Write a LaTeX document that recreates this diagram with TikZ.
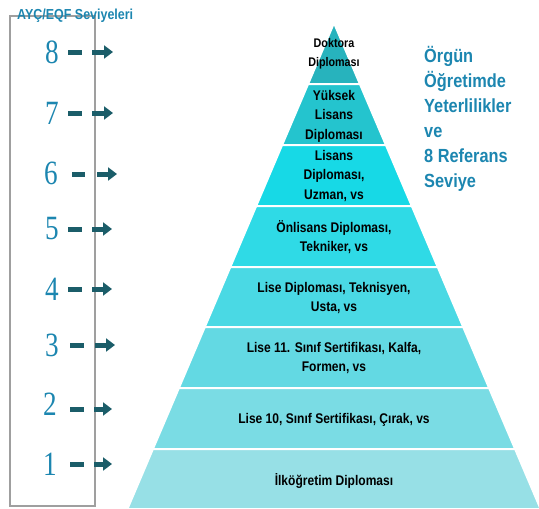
\documentclass[tikz,border=0pt]{standalone}
\usepackage{fontspec}
\setmainfont{Liberation Sans}[FakeStretch=0.86]
\newfontfamily\numfont{Liberation Serif}[FakeStretch=0.8]
\usetikzlibrary{arrows.meta, positioning}

\definecolor{levelblue}{HTML}{1C86B0}
\definecolor{arrowteal}{HTML}{1B5D69}
\definecolor{bandA}{HTML}{27B3BD}
\definecolor{bandB}{HTML}{24C4CE}
\definecolor{bandC}{HTML}{17D9E6}
\definecolor{bandD}{HTML}{2FDAE6}
\definecolor{bandE}{HTML}{4AD9E4}
\definecolor{bandF}{HTML}{63D9E3}
\definecolor{bandG}{HTML}{7ADCE4}
\definecolor{bandH}{HTML}{97E0E6}

\begin{document}
\begin{tikzpicture}[
  x=1pt, y=-1pt,
  band/.style={draw=white, line width=2pt},
  bandtext/.style={font=\bfseries\fontsize{14}{19.5}\selectfont, align=center, inner sep=0pt},
  level/.style={font=\numfont\fontsize{34}{34}\selectfont, text=levelblue, inner sep=0pt},
  dashbar/.style={line width=5pt, draw=arrowteal},
  levelarrow/.style={-{Triangle[length=9pt, width=13pt]}, line width=5pt, draw=arrowteal},
  frame/.style={draw=gray!75, line width=1.2pt, minimum width=85pt, minimum height=490pt, inner sep=0pt},
  heading/.style={font=\bfseries\fontsize{14.5}{16}\selectfont, text=levelblue, inner sep=0pt},
  sidetext/.style={font=\bfseries\fontsize{19}{25}\selectfont, text=levelblue, align=left, inner sep=0pt}
]
\useasboundingbox (0,0) rectangle (539,509);

% Pyramid bands
\filldraw[band, fill=bandA] (334,23) -- (359.9,84) -- (308.1,84) -- cycle;
\filldraw[band, fill=bandB] (308.1,84) -- (359.9,84) -- (385.9,145) -- (282.1,145) -- cycle;
\filldraw[band, fill=bandC] (282.1,145) -- (385.9,145) -- (411.8,206) -- (256.2,206) -- cycle;
\filldraw[band, fill=bandD] (256.2,206) -- (411.8,206) -- (437.7,267) -- (230.3,267) -- cycle;
\filldraw[band, fill=bandE] (230.3,267) -- (437.7,267) -- (463.2,327) -- (204.8,327) -- cycle;
\filldraw[band, fill=bandF] (204.8,327) -- (463.2,327) -- (489.1,388) -- (178.9,388) -- cycle;
\filldraw[band, fill=bandG] (178.9,388) -- (489.1,388) -- (515.1,449) -- (152.9,449) -- cycle;
\filldraw[band, fill=bandH] (152.9,449) -- (515.1,449) -- (540.6,509) -- (127.4,509) -- cycle;

% Band texts
\node[bandtext, font=\bfseries\fontsize{12.5}{19}\selectfont] (doktora) at (334,54) {Doktora\\Diploması};
\node[bandtext] (yuksek) at (334,116) {Yüksek\\Lisans\\Diploması};
\node[bandtext] (lisans) at (334,176) {Lisans\\Diploması,\\Uzman, vs};
\node[bandtext] (onlisans) at (334,237) {Önlisans Diploması,\\Tekniker, vs};
\node[bandtext] (lise) at (334,298) {Lise Diploması, Teknisyen,\\Usta, vs};
\node[bandtext] (lise11) at (334,358) {Lise 11. Sınıf Sertifikası, Kalfa,\\Formen, vs};
\node[bandtext] (lise10) at (334,420) {Lise 10, Sınıf Sertifikası, Çırak, vs};
\node[bandtext] (ilkogretim) at (334,481) {İlköğretim Diploması};

% Level box
\node[frame] (levelbox) at (52.5,261) {};
\node[heading, anchor=base west] (boxtitle) at (17,19.5) {AYÇ/EQF Seviyeleri};

% Level numbers
\node[level] (num8) at (52,52) {8};
\node[level] (num7) at (52,113) {7};
\node[level] (num6) at (51,173) {6};
\node[level] (num5) at (52,229) {5};
\node[level] (num4) at (52,289) {4};
\node[level] (num3) at (52,345) {3};
\node[level] (num2) at (50,404) {2};
\node[level] (num1) at (50,464) {1};

% Dashes and arrows
\draw[dashbar] (num8) ++(16,0) -- ++(14,0);
\draw[levelarrow] (num8) ++(40,0) -- ++(21,0);
\draw[dashbar] (num7) ++(16,0) -- ++(14,0);
\draw[levelarrow] (num7) ++(40,0) -- ++(21,0);
\draw[dashbar] (num6) ++(21,1) -- ++(13,0);
\draw[levelarrow] (num6) ++(46,1) -- ++(20,0);
\draw[dashbar] (num5) ++(16,0) -- ++(14,0);
\draw[levelarrow] (num5) ++(40,0) -- ++(20,0);
\draw[dashbar] (num4) ++(16,0) -- ++(14,0);
\draw[levelarrow] (num4) ++(40,0) -- ++(20,0);
\draw[dashbar] (num3) ++(18,0) -- ++(14,0);
\draw[levelarrow] (num3) ++(43,0) -- ++(20,0);
\draw[dashbar] (num2) ++(20,5) -- ++(14,0);
\draw[levelarrow] (num2) ++(44,5) -- ++(18,0);
\draw[dashbar] (num1) ++(20,0) -- ++(14,0);
\draw[levelarrow] (num1) ++(44,0) -- ++(18,0);

% Side caption
\node[sidetext, anchor=north west] (caption) at (424,46) {Örgün\\Öğretimde\\Yeterlilikler\\ve\\8 Referans\\Seviye};

\end{tikzpicture}
\end{document}
